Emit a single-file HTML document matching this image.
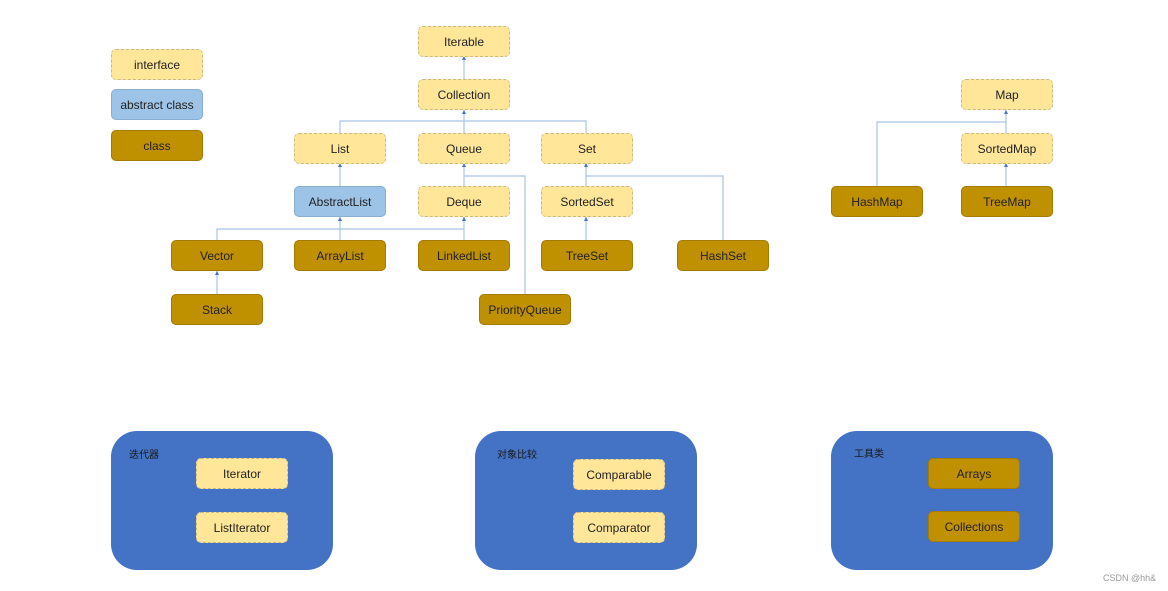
<!DOCTYPE html>
<html><head><meta charset="utf-8"><style>
body{margin:0;width:1168px;height:591px;background:#fff;position:relative;overflow:hidden;font-family:"Liberation Sans","Noto Sans CJK SC",sans-serif;}
.b{position:absolute;width:92px;height:31px;border-radius:5px;box-sizing:border-box;display:flex;align-items:center;justify-content:center;font-size:12px;color:#222;}
.i{background:#ffe699;border:1px dashed #c9b98a;}
.a{background:#9dc3e6;border:1px solid #8aaed0;}
.c{background:#bf9000;border:1px solid #a37b00;}
.g{position:absolute;background:#4472c4;border-radius:26px;width:222px;height:139px;}
.t{position:absolute;font-size:10px;color:#1a1a1a;}
svg{position:absolute;left:0;top:0;}
</style></head><body>
<svg width="1168" height="591">
<g stroke="#a9c4e4" stroke-width="1.2" fill="none">
<path d="M464 56V79"/><path d="M464 110V133"/><path d="M340 133V121H586V133"/>
<path d="M340 163V186"/><path d="M464 163V186"/><path d="M586 163V186"/>
<path d="M464 176H525V294"/><path d="M586 176H723V240"/>
<path d="M340 217V240"/><path d="M464 217V240"/><path d="M217 240V229H464"/>
<path d="M217 271V294"/><path d="M586 217V240"/>
<path d="M1006 110V133"/><path d="M877 186V122H1006"/><path d="M1006 163V186"/>
</g>
<g fill="#4472c4">
<path d="M464 56l-2 4h4z"/><path d="M464 110l-2 4h4z"/><path d="M340 163l-2 4h4z"/><path d="M464 163l-2 4h4z"/><path d="M586 163l-2 4h4z"/><path d="M340 217l-2 4h4z"/><path d="M464 217l-2 4h4z"/><path d="M586 217l-2 4h4z"/><path d="M217 271l-2 4h4z"/><path d="M1006 110l-2 4h4z"/><path d="M1006 163l-2 4h4z"/>
</g>
</svg>
<div class="b i" style="left:111px;top:49px">interface</div>
<div class="b a" style="left:111px;top:89px">abstract class</div>
<div class="b c" style="left:111px;top:130px">class</div>
<div class="b i" style="left:418px;top:26px">Iterable</div>
<div class="b i" style="left:418px;top:79px">Collection</div>
<div class="b i" style="left:294px;top:133px">List</div>
<div class="b i" style="left:418px;top:133px">Queue</div>
<div class="b i" style="left:541px;top:133px">Set</div>
<div class="b a" style="left:294px;top:186px">AbstractList</div>
<div class="b i" style="left:418px;top:186px">Deque</div>
<div class="b i" style="left:541px;top:186px">SortedSet</div>
<div class="b c" style="left:171px;top:240px">Vector</div>
<div class="b c" style="left:294px;top:240px">ArrayList</div>
<div class="b c" style="left:418px;top:240px">LinkedList</div>
<div class="b c" style="left:541px;top:240px">TreeSet</div>
<div class="b c" style="left:677px;top:240px">HashSet</div>
<div class="b c" style="left:171px;top:294px">Stack</div>
<div class="b c" style="left:479px;top:294px">PriorityQueue</div>
<div class="b i" style="left:961px;top:79px">Map</div>
<div class="b i" style="left:961px;top:133px">SortedMap</div>
<div class="b c" style="left:831px;top:186px">HashMap</div>
<div class="b c" style="left:961px;top:186px">TreeMap</div>
<div class="g" style="left:111px;top:431px"></div>
<div class="g" style="left:475px;top:431px"></div>
<div class="g" style="left:831px;top:431px"></div>
<div class="t" style="left:129px;top:446px">迭代器</div>
<div class="t" style="left:497px;top:446px">对象比较</div>
<div class="t" style="left:854px;top:445px">工具类</div>
<div class="b i" style="left:196px;top:458px">Iterator</div>
<div class="b i" style="left:196px;top:512px">ListIterator</div>
<div class="b i" style="left:573px;top:459px">Comparable</div>
<div class="b i" style="left:573px;top:512px">Comparator</div>
<div class="b c" style="left:928px;top:458px">Arrays</div>
<div class="b c" style="left:928px;top:511px">Collections</div>
<div class="t" style="left:1103px;top:573px;color:#999;font-size:9px">CSDN @hh&amp;</div>
</body></html>
